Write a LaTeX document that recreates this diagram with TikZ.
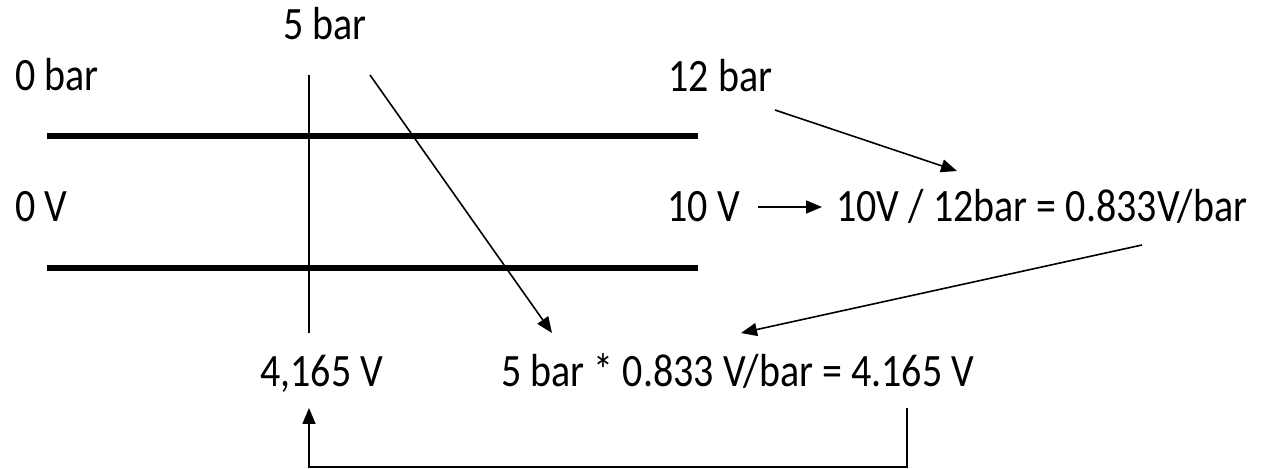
\documentclass[tikz,border=0pt]{standalone}
\usepackage{fontspec}
\usepackage{graphicx}
\setmainfont{Carlito}
\usetikzlibrary{arrows.meta}
\newcommand{\talltext}[1]{\scalebox{1}[1.16]{#1}}
\tikzset{
  lbl/.style={anchor=base west,inner sep=0pt,font=\fontsize{20}{24}\selectfont},
  rail/.style={line width=3pt},
  thinline/.style={line width=0.8pt},
  arr/.style={thinline,-{Triangle[length=8pt,width=6.5pt]}}
}

\begin{document}
\begin{tikzpicture}[x=0.5pt,y=-0.5pt]
  \useasboundingbox (0,0) rectangle (1262,469);
  % labels
  \node[lbl] (fivebar) at (283,40) {\talltext{5 bar}};
  \node[lbl] (zerobar) at (15,91) {\talltext{0 bar}};
  \node[lbl] (twelvebar) at (668,92) {\talltext{12 bar}};
  \node[lbl] (zerov) at (15,222) {\talltext{0 V}};
  \node[lbl] (tenv) at (667,222) {\talltext{10 V}};
  \node[lbl] (ratio) at (836,222) {\talltext{10V / 12bar = 0.833V/bar}};
  \node[lbl] (result) at (260,387) {\talltext{4,165 V}};
  \node[lbl] (calc) at (501,387) {\talltext{5 bar * 0.833 V/bar = 4.165 V}};
  % free ends
  \coordinate (railL1) at (47,136);  \coordinate (railR1) at (698,136);
  \coordinate (railL2) at (47,268);  \coordinate (railR2) at (698,268);
  \coordinate (markT) at (309,75);   \coordinate (markB) at (309,333);
  \coordinate (diagS) at (370,75);   \coordinate (diagE) at (552,333);
  \coordinate (twS) at (775,110);    \coordinate (twE) at (957,171);
  \coordinate (tvS) at (758,207);    \coordinate (tvE) at (822,207);
  \coordinate (raS) at (1142,245);   \coordinate (raE) at (741,333);
  \coordinate (caS) at (907,408);    \coordinate (reE) at (309,408);
  % rails
  \draw[rail] (railL1) -- (railR1);
  \draw[rail] (railL2) -- (railR2);
  % connectors
  \draw[thinline] (markT) -- (markB);
  \draw[arr] (diagS) -- (diagE);
  \draw[arr] (twS) -- (twE);
  \draw[arr] (tvS) -- (tvE);
  \draw[arr] (raS) -- (raE);
  \draw[arr] (caS) -- (907,467) -- (309,467) -- (reE);
\end{tikzpicture}
\end{document}
